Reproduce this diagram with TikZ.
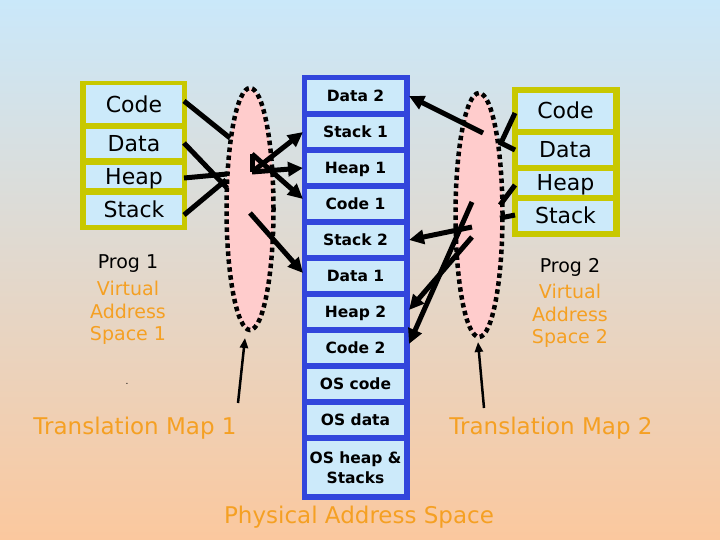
\documentclass[tikz,border=0pt]{standalone}
\usepackage{fontspec}
\setmainfont{DejaVu Sans}
\usetikzlibrary{arrows.meta,shapes.geometric}
\definecolor{bgtop}{RGB}{202,232,250}
\definecolor{bgmid}{RGB}{226,226,228}
\definecolor{bgbot}{RGB}{251,200,158}
\definecolor{cellblue}{RGB}{204,234,250}
\definecolor{vboxc}{RGB}{200,200,0}
\definecolor{pboxc}{RGB}{50,70,220}
\definecolor{pinkfill}{RGB}{255,204,204}
\definecolor{orangetxt}{RGB}{245,160,35}
\begin{document}
\begin{tikzpicture}[x=1pt,y=-1pt,
  vframe/.style={fill=vboxc, inner sep=0pt},
  pframe/.style={fill=pboxc, inner sep=0pt},
  vcell/.style={fill=cellblue, inner sep=0pt, font=\fontsize{22}{22}\selectfont, text height=16pt, text depth=0pt},
  pcell/.style={fill=cellblue, inner sep=0pt, minimum width=97pt, font=\bfseries\fontsize{15.5}{20}\selectfont, text height=11.3pt, text depth=0pt},
  mapell/.style={ellipse, fill=pinkfill, draw=black, line width=4.5pt, dash pattern=on 4.5pt off 3.5pt, inner sep=0pt},
  conn/.style={line width=5pt, black},
  arr/.style={conn, -{Triangle[length=15pt,width=14pt]}},
  ptr/.style={line width=2.5pt, black, -{Triangle[length=10pt,width=8pt]}},
  otext/.style={text=orangetxt, inner sep=0pt},
  lbl/.style={font=\fontsize{19}{19}\selectfont, inner sep=0pt},
  big/.style={font=\fontsize{23}{23}\selectfont}
]
\shade[top color=bgtop, middle color=bgmid, bottom color=bgbot] (0,0) rectangle (720,540);
\useasboundingbox (0,0) rectangle (720,540);

% translation maps
\node[mapell, minimum width=47pt, minimum height=242pt] (map1) at (250,209) {};
\node[mapell, minimum width=47pt, minimum height=244pt] (map2) at (479,215) {};

% left virtual space
\node[vframe, minimum width=107pt, minimum height=149pt] (lframe) at (133.5,155.5) {};
\node[vcell, minimum width=96pt, minimum height=38pt] (lcode) at (134,104.5) {Code};
\node[vcell, minimum width=96pt, minimum height=29pt] (ldata) at (134,143.5) {Data};
\node[vcell, minimum width=96pt, minimum height=23pt] (lheap) at (134,176.5) {Heap};
\node[vcell, minimum width=96pt, minimum height=30pt] (lstack) at (134,210) {Stack};

% right virtual space
\node[vframe, minimum width=108pt, minimum height=150pt] (rframe) at (566,162) {};
\node[vcell, minimum width=95pt, minimum height=36pt] (rcode) at (565.5,111) {Code};
\node[vcell, minimum width=95pt, minimum height=30pt] (rdata) at (565.5,150) {Data};
\node[vcell, minimum width=95pt, minimum height=24pt] (rheap) at (565.5,183) {Heap};
\node[vcell, minimum width=95pt, minimum height=30pt] (rstack) at (565.5,216) {Stack};

% physical space
\node[pframe, minimum width=108pt, minimum height=425pt] (pframe) at (356,287.5) {};
\node[pcell, minimum height=31pt] (pdata2) at (355.5,95.5) {Data 2};
\node[pcell, minimum height=30pt] (pstack1) at (355.5,132) {Stack 1};
\node[pcell, minimum height=30pt] (pheap1) at (355.5,168) {Heap 1};
\node[pcell, minimum height=30pt] (pcode1) at (355.5,204) {Code 1};
\node[pcell, minimum height=30pt] (pstack2) at (355.5,240) {Stack 2};
\node[pcell, minimum height=30pt] (pdata1) at (355.5,276) {Data 1};
\node[pcell, minimum height=30pt] (pheap2) at (355.5,312) {Heap 2};
\node[pcell, minimum height=30pt] (pcode2) at (355.5,348) {Code 2};
\node[pcell, minimum height=30pt] (poscode) at (355.5,384) {OS code};
\node[pcell, minimum height=30pt] (posdata) at (355.5,420) {OS data};
\node[pcell, minimum height=53pt, text height=, text depth=, align=center] (posheap) at (355.5,467.5) {OS heap \&\\Stacks};

% labels
\node[lbl] (p1) at (128,264) {Prog 1};
\node[lbl, otext] (v1) at (128,288) {Virtual};
\node[lbl, otext] (a1) at (128,311) {Address};
\node[lbl, otext] (s1) at (128,335) {Space 1};
\node[lbl] (p2) at (570,267) {Prog 2};
\node[lbl, otext] (v2) at (570,291) {Virtual};
\node[lbl, otext] (a2) at (570,314) {Address};
\node[lbl, otext] (s2) at (570,338) {Space 2};
\node[big, otext] (tm1) at (135,428) {Translation Map 1};
\node[big, otext] (tm2) at (551,428) {Translation Map 2};
\node[big, otext] (pas) at (359,517) {Physical Address Space};
\node[font=\fontsize{9}{9}\selectfont, inner sep=0pt] (dot) at (127,384) {.};

% coordinates
\coordinate (lc0) at (184,101);
\coordinate (ld0) at (184,143);
\coordinate (lh0) at (184,178);
\coordinate (ls0) at (184,215);
\coordinate (lc1) at (230,138);
\coordinate (ld1) at (227,188);
\coordinate (lh1) at (227,174);
\coordinate (ls1) at (226,180);
\coordinate (m1a) at (252,172);
\coordinate (m1b) at (252,154);
\coordinate (m1c) at (250,213);
\coordinate (tstack1) at (303,132);
\coordinate (theap1) at (303,168);
\coordinate (tcode1) at (303,199);
\coordinate (tdata1) at (303,273);

\coordinate (rc0) at (515,113);
\coordinate (rd0) at (515,150);
\coordinate (rh0) at (515,185);
\coordinate (rs0) at (515,215);
\coordinate (rc1) at (500,145);
\coordinate (rd1) at (499,142);
\coordinate (rh1) at (500,205);
\coordinate (rs1) at (500,218);
\coordinate (m2a) at (483,133);
\coordinate (m2b) at (472,227);
\coordinate (m2c) at (472,202);
\coordinate (m2d) at (472,237);
\coordinate (tdata2) at (409,96);
\coordinate (tstack2) at (409,240);
\coordinate (tcode2) at (409,344);
\coordinate (theap2) at (409,310);

\coordinate (tm1top) at (238,403);
\coordinate (tm2top) at (484,408);
\coordinate (map1bot) at (245,338);
\coordinate (map2bot) at (478,342);

% left connectors
\draw[conn] (lc0) -- (lc1);
\draw[conn] (ld0) -- (ld1);
\draw[conn] (lh0) -- (lh1);
\draw[conn] (ls0) -- (ls1);
\draw[arr] (m1a) -- (tstack1);
\draw[arr] (m1a) -- (theap1);
\draw[arr] (m1b) -- (tcode1);
\draw[arr] (m1c) -- (tdata1);
\draw[conn] (m1b) -- (m1a);

% right connectors
\draw[conn] (rc0) -- (rc1);
\draw[conn] (rd0) -- (rd1);
\draw[conn] (rh0) -- (rh1);
\draw[conn] (rs0) -- (rs1);
\draw[arr] (m2a) -- (tdata2);
\draw[arr] (m2b) -- (tstack2);
\draw[arr] (m2c) -- (tcode2);
\draw[arr] (m2d) -- (theap2);

% pointers
\draw[ptr] (tm1top) -- (map1bot);
\draw[ptr] (tm2top) -- (map2bot);
\end{tikzpicture}
\end{document}
